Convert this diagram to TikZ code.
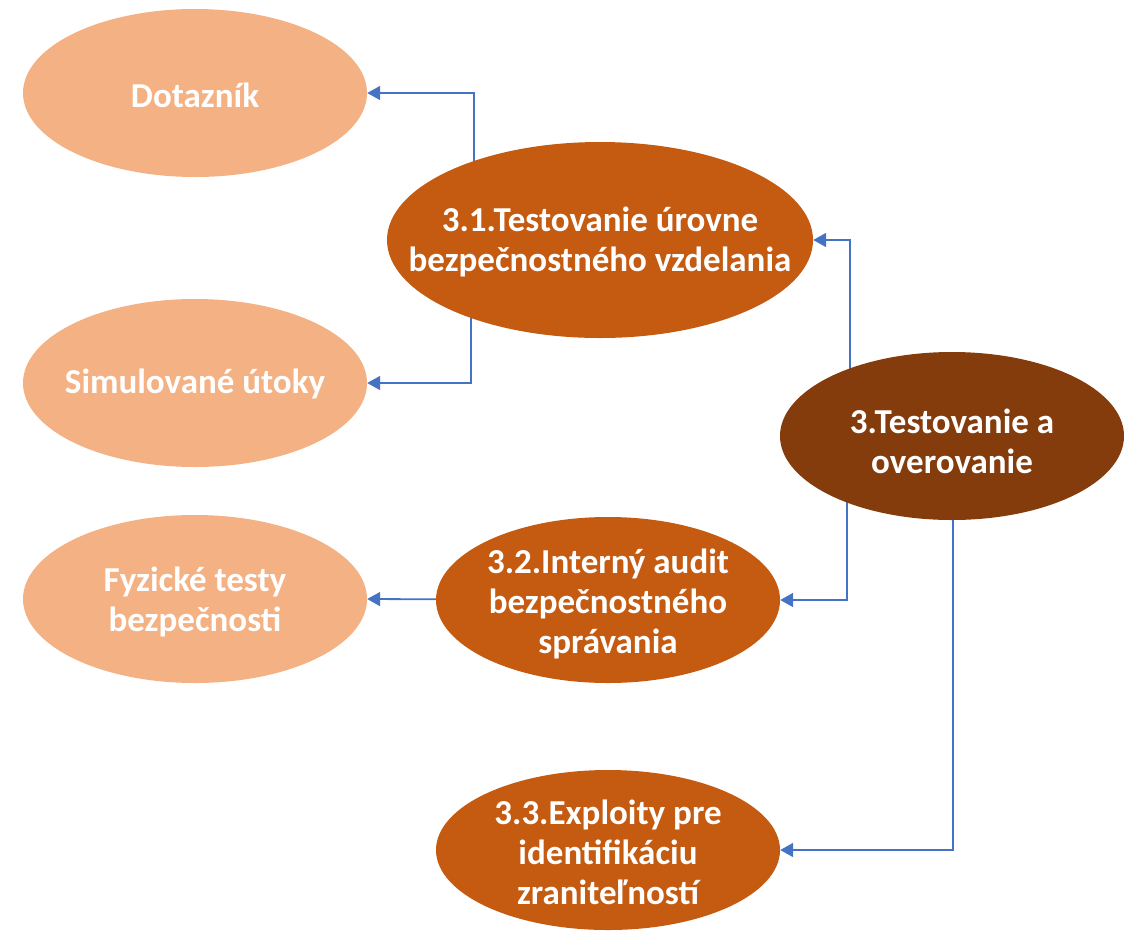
\documentclass[tikz,border=0pt]{standalone}
\usepackage{fontspec}
\setmainfont{Carlito}
\usetikzlibrary{shapes.geometric,arrows.meta,backgrounds}
\definecolor{light}{HTML}{F4B183}
\definecolor{mid}{HTML}{C55A11}
\definecolor{dark}{HTML}{843C0C}
\definecolor{conblue}{HTML}{4472C4}
\begin{document}
\begin{tikzpicture}[x=1pt,y=-1pt,
  ell/.style={ellipse,inner sep=0pt,draw=none,minimum width=344pt,minimum height=168pt},
  lightell/.style={ell,fill=light},
  midell/.style={ell,fill=mid},
  darkell/.style={ell,fill=dark},
  txt/.style={text=white,font=\fontsize{35}{40}\selectfont\bfseries,align=center,inner sep=0pt},
  conn/.style={draw=conblue,line width=1.8pt,-{Triangle[length=13pt,width=14pt]}}]
\useasboundingbox (0,0) rectangle (1132,930);
% ellipses
\node[lightell] (dot) at (195,93) {};
\node[txt] (tdot) at (195,95) {Dotazník};
\node[lightell] (sim) at (195,383) {};
\node[txt] (tsim) at (195,384) {Simulované útoky};
\node[lightell] (fyz) at (195,599) {};
\node[txt] (tfyz) at (195,602) {Fyzické testy\\bezpečnosti};
\node[midell,minimum width=426pt,minimum height=196pt] (c31) at (600,240) {};
\node[txt] (tc31) at (600,242) {3.1.Testovanie úrovne\\bezpečnostného vzdelania};
\node[darkell,minimum height=168pt] (c3) at (952,436) {};
\node[txt] (tc3) at (952,441) {3.Testovanie a\\overovanie};
\node[midell,minimum height=166pt] (c32) at (608,600) {};
\node[txt] (tc32) at (608,604) {3.2.Interný audit\\bezpečnostného\\správania};
\node[midell,minimum height=160pt] (c33) at (608,850) {};
\node[txt] (tc33) at (608,852) {3.3.Exploity pre\\identifikáciu\\zraniteľností};
% elbow x positions
\coordinate (xa) at (474,0);
\coordinate (xb) at (471,0);
\coordinate (xc) at (850,0);
\coordinate (xd) at (847,0);
\coordinate (xe) at (953,0);
\begin{scope}[on background layer]
\draw[conn] (c31.center -| xa) |- (dot.east);
\draw[conn] (c31.center -| xb) |- (sim.east);
\draw[conn] (c3.center -| xc) |- (c31.east);
\draw[conn] (c3.center -| xd) |- (c32.east);
\draw[conn] (c3.center -| xe) |- (c33.east);
\draw[conn] (c32.center) -- (fyz.east);
\end{scope}
\end{tikzpicture}
\end{document}
